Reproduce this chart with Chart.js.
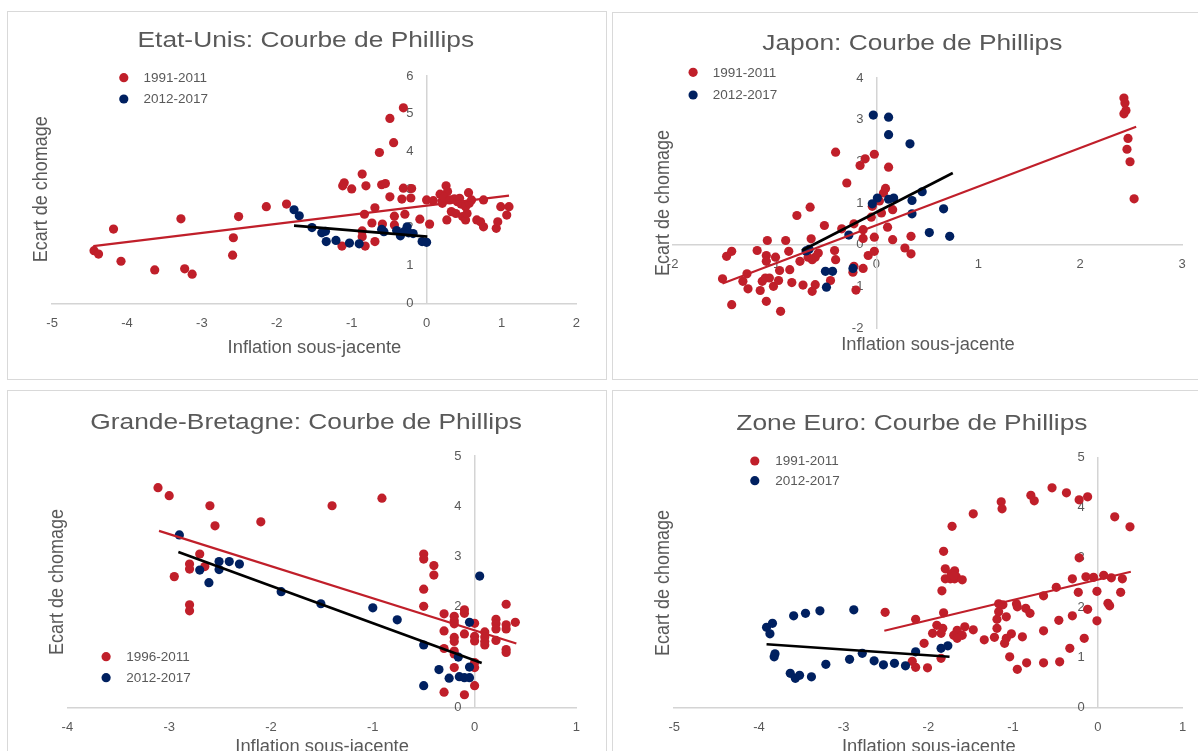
<!DOCTYPE html>
<html><head><meta charset="utf-8">
<script src="https://cdn.jsdelivr.net/npm/chart.js@4.4.1/dist/chart.umd.min.js"></script>
<style>
html,body{margin:0;padding:0;background:#fff;overflow:hidden;width:1198px;height:751px;}
.box{position:absolute;border:1px solid #d9d9d9;background:#fff;}
canvas{display:block;}
</style></head><body>
<div class="box" style="left:7px;top:11px;"><canvas id="c1" width="598" height="367"></canvas></div>
<div class="box" style="left:612px;top:12px;"><canvas id="c2" width="598" height="366"></canvas></div>
<div class="box" style="left:7px;top:390px;"><canvas id="c3" width="598" height="380"></canvas></div>
<div class="box" style="left:612px;top:390px;"><canvas id="c4" width="598" height="380"></canvas></div>
<script>
// ---------- DATA ----------
const usTitle = "Etat-Unis: Courbe de Phillips";
const jpTitle = "Japon: Courbe de Phillips";
const ukTitle = "Grande-Bretagne: Courbe de Phillips";
const euTitle = "Zone Euro: Courbe de Phillips";
const xAxisTitle = "Inflation sous-jacente";
const yAxisTitle = "Ecart de chomage";

const usXTicks = [-5,-4,-3,-2,-1,0,1,2];
const usYTicks = [0,1,2,3,4,5,6];
const jpXTicks = [-2,-1,0,1,2,3];
const jpYTicks = [-2,-1,0,1,2,3,4];
const ukXTicks = [-4,-3,-2,-1,0,1];
const ukYTicks = [0,1,2,3,4,5];
const euXTicks = [-5,-4,-3,-2,-1,0,1];
const euYTicks = [0,1,2,3,4,5];

const usRedLabel = "1991-2011", usBlueLabel = "2012-2017";
const jpRedLabel = "1991-2011", jpBlueLabel = "2012-2017";
const ukRedLabel = "1996-2011", ukBlueLabel = "2012-2017";
const euRedLabel = "1991-2011", euBlueLabel = "2012-2017";

const usRed = [[-4.44,1.39],[-4.38,1.30],[-4.18,1.96],[-4.08,1.11],[-3.63,0.88],[-3.28,2.23],[-3.23,0.91],[-3.13,0.77],[-2.59,1.27],[-2.58,1.73],[-2.51,2.29],[-2.14,2.55],[-1.87,2.62],
[-1.13,1.51],[-1.12,3.10],[-1.10,3.18],[-1.00,3.02],[-0.86,3.41],[-0.86,1.91],[-0.86,1.76],[-0.83,2.35],[-0.82,1.51],[-0.81,3.10],[-0.73,2.12],[-0.69,2.52],[-0.69,1.63],[-0.63,3.98],[-0.60,3.13],[-0.59,2.09],[-0.55,3.16],[-0.49,2.81],[-0.49,4.88],[-0.44,4.24],[-0.43,2.07],[-0.43,2.30],[-0.33,2.75],[-0.31,5.16],[-0.31,3.04],[-0.29,2.35],[-0.21,2.78],[-0.20,3.03],[-0.09,2.22],[0.00,2.73],[0.04,2.09],
[0.09,2.71],[0.18,2.88],[0.21,2.71],[0.21,2.64],[0.26,3.10],[0.28,2.95],[0.27,2.20],[0.23,2.81],[0.31,2.73],[0.33,2.42],[0.37,2.76],[0.39,2.37],[0.41,2.68],[0.44,2.77],[0.46,2.62],[0.48,2.29],[0.52,2.20],[0.52,2.55],[0.54,2.37],[0.56,2.92],[0.57,2.64],[0.60,2.73],[0.67,2.20],[0.72,2.15],[0.76,2.73],[0.76,2.02],[0.93,1.98],[0.95,2.15],[0.99,2.55],[1.07,2.33],[1.10,2.55]];
const usBlue = [[-1.77,2.47],[-1.70,2.31],[-1.53,2.00],[-1.40,1.86],[-1.35,1.90],[-1.34,1.63],[-1.21,1.66],[-1.03,1.59],[-0.90,1.57],[-0.60,1.95],[-0.57,1.89],[-0.40,1.92],[-0.35,1.78],[-0.30,1.89],[-0.26,2.02],[-0.24,1.86],[-0.18,1.84],[-0.06,1.63],[0.00,1.61]];
const usRedTrend = [[-4.45,1.51],[1.10,2.84]];
const usBlueTrend = [[-1.77,2.05],[0.01,1.76]];

const jpRed = [[-1.51,-0.82],[-1.47,-0.28],[-1.42,-0.16],[-1.42,-1.44],[-1.31,-0.88],[-1.27,-0.70],[-1.26,-1.06],[-1.17,-0.14],[-1.14,-1.10],[-1.12,-0.88],[-1.09,-0.80],[-1.08,-0.26],[-1.08,-0.40],[-1.08,-1.36],[-1.07,0.10],[-1.05,-0.80],[-1.01,-1.00],[-0.99,-0.30],[-0.96,-0.86],[-0.95,-0.62],[-0.94,-1.60],[-0.89,0.10],[-0.86,-0.16],[-0.85,-0.60],[-0.83,-0.91],[-0.78,0.70],[-0.75,-0.40],[-0.72,-0.97],[-0.67,-0.30],[-0.65,0.90],[-0.64,0.14],[-0.63,-0.36],[-0.63,-1.12],[-0.60,-0.30],[-0.60,-0.96],[-0.57,-0.20],[-0.51,0.46],[-0.45,-0.86],[-0.41,-0.14],[-0.40,-0.36],[-0.40,2.22],[-0.34,0.38],[-0.29,1.48],[-0.23,-0.66],[-0.22,0.50],[-0.22,-0.52],[-0.20,-1.09],[-0.16,1.90],[-0.13,0.36],[-0.13,0.15],[-0.13,-0.57],[-0.11,2.06],[-0.08,-0.26],[-0.05,0.66],[-0.04,0.92],[-0.02,2.17],[-0.02,0.18],[-0.02,-0.16],[0.03,1.05],[0.05,0.76],[0.07,1.24],[0.09,1.35],[0.11,0.42],[0.12,1.86],[0.16,0.84],[0.16,0.12],[0.28,-0.08],[0.34,0.20],[0.34,-0.22],[2.43,3.52],[2.44,3.40],[2.45,3.22],[2.43,3.14],[2.47,2.55],[2.46,2.29],[2.49,1.99],[2.53,1.10]];
const jpBlue = [[-0.03,3.11],[0.12,3.06],[0.12,2.64],[0.33,2.42],[0.01,1.12],[-0.04,0.98],[0.12,1.09],[0.17,1.12],[0.45,1.27],[0.35,1.06],[0.35,0.74],[0.66,0.86],[0.52,0.29],[0.72,0.20],[-0.27,0.23],[-0.66,-0.11],[-0.69,-0.15],[-0.50,-0.64],[-0.43,-0.64],[-0.49,-1.02],[-0.23,-0.57]];
const jpRedTrend = [[-1.51,-0.93],[2.55,2.83]];
const jpBlueTrend = [[-0.73,-0.14],[0.75,1.72]];

const ukRed = [[-3.11,4.37],[-3.00,4.21],[-2.60,4.01],[-2.55,3.61],[-2.10,3.69],[-1.40,4.01],[-0.91,4.16],[-2.95,2.60],[-2.80,2.85],[-2.80,2.75],[-2.70,3.05],[-2.65,2.80],[-2.80,2.04],[-2.80,1.92],
[-0.50,3.05],[-0.50,2.95],[-0.40,2.82],[-0.40,2.63],[-0.50,2.35],[-0.50,2.01],[-0.30,1.86],[-0.30,1.52],[-0.30,1.17],[-0.30,0.30],[-0.20,1.81],[-0.20,1.72],[-0.20,1.66],[-0.20,1.39],[-0.20,1.31],[-0.20,1.12],[-0.20,1.06],[-0.20,0.79],[-0.10,1.94],[-0.10,1.87],[-0.10,1.46],[-0.10,0.25],[0.00,1.67],[0.00,1.41],[0.00,1.32],[0.00,0.89],[0.00,0.79],[0.00,0.43],[0.10,1.50],[0.10,1.40],[0.10,1.31],[0.10,1.24],[0.21,1.75],[0.21,1.66],[0.21,1.56],[0.21,1.33],[0.31,2.05],[0.31,1.64],[0.31,1.56],[0.31,1.15],[0.31,1.09],[0.40,1.69]];
const ukBlue = [[-2.90,3.43],[-2.70,2.73],[-2.51,2.90],[-2.51,2.74],[-2.41,2.90],[-2.31,2.85],[-2.61,2.48],[-1.90,2.30],[-1.51,2.06],[-1.00,1.98],[-0.76,1.74],[-0.50,1.24],[-0.50,0.43],[-0.35,0.75],[-0.25,0.58],[-0.15,0.61],[-0.10,0.59],[-0.05,0.59],[-0.16,1.00],[-0.05,0.80],[-0.05,1.69],[0.05,2.61]];
const ukRedTrend = [[-3.10,3.51],[0.41,1.27]];
const ukBlueTrend = [[-2.91,3.09],[0.07,0.88]];

const euRed = [[-2.51,1.90],[-2.15,1.76],[-2.19,0.92],[-2.15,0.80],[-2.01,0.79],[-2.05,1.28],[-1.95,1.48],[-1.90,1.64],[-1.82,1.89],[-1.85,1.48],[-1.83,1.58],[-1.85,0.98],[-1.84,2.33],[-1.82,3.12],[-1.80,2.77],[-1.80,2.57],[-1.74,2.57],[-1.69,2.73],[-1.69,2.57],[-1.67,2.61],[-1.60,2.55],[-1.73,2.67],[-1.70,2.63],[-1.72,3.62],[-1.47,3.87],[-1.14,4.11],[-1.13,3.97],[-0.79,4.24],[-0.75,4.13],[-0.54,4.39],[-0.37,4.29],[-0.22,4.15],[-0.12,4.21],[0.20,3.81],[0.38,3.61],[-0.22,2.99],[-0.30,2.57],[-0.14,2.61],[-0.05,2.60],[0.07,2.64],[0.16,2.59],[0.29,2.57],[-0.49,2.40],[-0.64,2.23],[-0.23,2.30],[-0.01,2.32],[0.27,2.30],[0.12,2.08],[0.14,2.03],[-1.17,2.07],[-1.12,2.05],[-1.17,1.91],[-0.96,2.07],[-0.95,2.01],[-0.85,1.98],[-0.80,1.88],[-1.08,1.81],[-1.19,1.76],[-1.19,1.58],[-1.22,1.40],[-1.08,1.38],[-1.10,1.28],[-1.02,1.47],[-0.89,1.41],[-0.64,1.53],[-1.34,1.35],[-1.47,1.55],[-1.57,1.61],[-1.66,1.54],[-1.70,1.44],[-1.60,1.44],[-1.66,1.38],[-1.04,1.01],[-0.95,0.76],[-0.84,0.89],[-0.64,0.89],[-0.45,0.91],[-0.33,1.18],[-0.16,1.38],[-0.46,1.74],[-0.30,1.83],[-0.12,1.96],[-0.01,1.73]];
const euBlue = [[-3.91,1.60],[-3.84,1.68],[-3.87,1.47],[-3.82,1.01],[-3.81,1.07],[-3.59,1.83],[-3.45,1.88],[-3.28,1.93],[-2.88,1.95],[-3.63,0.68],[-3.57,0.58],[-3.52,0.64],[-3.38,0.61],[-3.21,0.86],[-2.93,0.96],[-2.78,1.08],[-2.64,0.93],[-2.53,0.85],[-2.40,0.88],[-2.27,0.83],[-2.15,1.11],[-1.85,1.18],[-1.77,1.23]];
const euRedTrend = [[-2.52,1.53],[0.39,2.71]];
const euBlueTrend = [[-3.91,1.26],[-1.75,1.01]];

// ---------- STYLE ----------
const RED = '#C01F2A', BLUE = '#002060', BLACK = '#000000';
const TXT = '#595959', AXIS = '#d4d4d4';
const FONT = "'Liberation Sans', Arial, sans-serif";
const DOT = 4.6;

const textPlugin = {
  id: 'panelTexts',
  afterDraw(chart, args, o) {
    const ctx = chart.ctx;
    ctx.save();
    ctx.fillStyle = TXT;
    // title
    ctx.save();
    ctx.font = "22.5px " + FONT;
    ctx.textAlign = 'center'; ctx.textBaseline = 'alphabetic';
    ctx.translate(o.title[0], o.title[1]); ctx.scale(1.17, 1);
    ctx.fillText(o.titleText, 0, 0);
    ctx.restore();
    // x axis title
    ctx.save();
    ctx.font = "17.5px " + FONT;
    ctx.textAlign = 'center'; ctx.textBaseline = 'alphabetic';
    ctx.translate(o.xTitle[0], o.xTitle[1]); ctx.scale(1.05, 1);
    ctx.fillText(xAxisTitle, 0, 0);
    ctx.restore();
    // y axis title
    ctx.save();
    ctx.font = "18px " + FONT;
    ctx.textAlign = 'center'; ctx.textBaseline = 'alphabetic';
    ctx.translate(o.yTitle[0], o.yTitle[1]); ctx.scale(1.15, 1); ctx.rotate(-Math.PI / 2);
    ctx.fillText(yAxisTitle, 0, 0);
    ctx.restore();
    // legend
    ctx.font = "13.5px " + FONT;
    ctx.textAlign = 'left'; ctx.textBaseline = 'middle';
    [0, 1].forEach(i => {
      const ds = chart.data.datasets[i];
      const p = o.legend[i];
      ctx.beginPath();
      ctx.fillStyle = ds.backgroundColor;
      ctx.arc(p[0], p[1], DOT, 0, Math.PI * 2);
      ctx.fill();
      ctx.fillStyle = TXT;
      ctx.fillText(ds.label, o.legendTextX, p[1] + 0.5);
    });
    ctx.restore();
  }
};

function makeChart(id, cfg) {
  const tickFont = { family: FONT, size: 13 };
  return new Chart(document.getElementById(id), {
    type: 'scatter',
    data: {
      datasets: [
        { label: cfg.redLabel, data: cfg.red, backgroundColor: RED, borderColor: RED, borderWidth: 0, pointRadius: DOT, pointHoverRadius: DOT, order: 3 },
        { label: cfg.blueLabel, data: cfg.blue, backgroundColor: BLUE, borderColor: BLUE, borderWidth: 0, pointRadius: DOT, pointHoverRadius: DOT, order: 2 },
        { type: 'line', label: 'trendRed', data: cfg.redTrend, borderColor: RED, backgroundColor: RED, borderWidth: 2.2, pointRadius: 0, fill: false, order: 1 },
        { type: 'line', label: 'trendBlue', data: cfg.blueTrend, borderColor: BLACK, backgroundColor: BLACK, borderWidth: 2.6, pointRadius: 0, fill: false, order: 0 }
      ]
    },
    options: {
      responsive: false, animation: false, devicePixelRatio: 1,
      events: [],
      layout: { padding: cfg.pad },
      plugins: {
        legend: { display: false }, tooltip: { enabled: false }, title: { display: false },
        panelTexts: cfg.texts
      },
      scales: {
        x: {
          type: 'linear', position: { y: 0 }, min: cfg.xTicks[0], max: cfg.xTicks[cfg.xTicks.length - 1],
          afterBuildTicks: s => { s.ticks = cfg.xTicks.map(v => ({ value: v })); },
          afterFit: s => { s.height = 0; },
          grid: { display: false, drawTicks: false, tickLength: 0 },
          border: { display: true, color: AXIS, width: 1.5 },
          ticks: { font: tickFont, color: TXT, padding: 12, maxRotation: 0, autoSkip: false, callback: v => String(v) }
        },
        y: {
          type: 'linear', position: { x: 0 }, min: cfg.yTicks[0], max: cfg.yTicks[cfg.yTicks.length - 1],
          afterBuildTicks: s => { s.ticks = cfg.yTicks.map(v => ({ value: v })); },
          afterFit: s => { s.width = 0; },
          grid: { display: false, drawTicks: false, tickLength: 0 },
          border: { display: true, color: AXIS, width: 1.5 },
          ticks: { font: tickFont, color: TXT, padding: 0, autoSkip: false, callback: v => String(v) + '\u2003' }
        }
      }
    },
    plugins: [textPlugin]
  });
}

makeChart('c1', {
  red: usRed, blue: usBlue, redTrend: usRedTrend, blueTrend: usBlueTrend,
  redLabel: usRedLabel, blueLabel: usBlueLabel, xTicks: usXTicks, yTicks: usYTicks,
  pad: { left: 44.1, top: 64, right: 29.6, bottom: 75.7 },
  texts: { titleText: usTitle, title: [297.8, 35], xTitle: [306.4, 341.3], yTitle: [39, 177.2], legend: [[115.8, 65.7], [115.8, 87]], legendTextX: 135.5 }
});
makeChart('c2', {
  red: jpRed, blue: jpBlue, redTrend: jpRedTrend, blueTrend: jpBlueTrend,
  redLabel: jpRedLabel, blueLabel: jpBlueLabel, xTicks: jpXTicks, yTicks: jpYTicks,
  pad: { left: 59.6, top: 65, right: 29, bottom: 51 },
  texts: { titleText: jpTitle, title: [299.3, 36.5], xTitle: [315, 337], yTitle: [56.2, 190], legend: [[80.1, 59.3], [80.1, 82]], legendTextX: 99.8 }
});
makeChart('c3', {
  red: ukRed, blue: ukBlue, redTrend: ukRedTrend, blueTrend: ukBlueTrend,
  redLabel: ukRedLabel, blueLabel: ukBlueLabel, xTicks: ukXTicks, yTicks: ukYTicks,
  pad: { left: 59.4, top: 65, right: 29.6, bottom: 63.7 },
  texts: { titleText: ukTitle, title: [298.1, 38], xTitle: [314.1, 361], yTitle: [54.5, 191], legend: [[98.1, 265.7], [98.1, 286.7]], legendTextX: 118.2 }
});
makeChart('c4', {
  red: euRed, blue: euBlue, redTrend: euRedTrend, blueTrend: euBlueTrend,
  redLabel: euRedLabel, blueLabel: euBlueLabel, xTicks: euXTicks, yTicks: euYTicks,
  pad: { left: 61.2, top: 66.3, right: 28.5, bottom: 63.7 },
  texts: { titleText: euTitle, title: [298.9, 38.5], xTitle: [315.8, 361], yTitle: [56.2, 192], legend: [[141.8, 70], [141.8, 89.7]], legendTextX: 162.2 }
});
</script>
</body></html>
